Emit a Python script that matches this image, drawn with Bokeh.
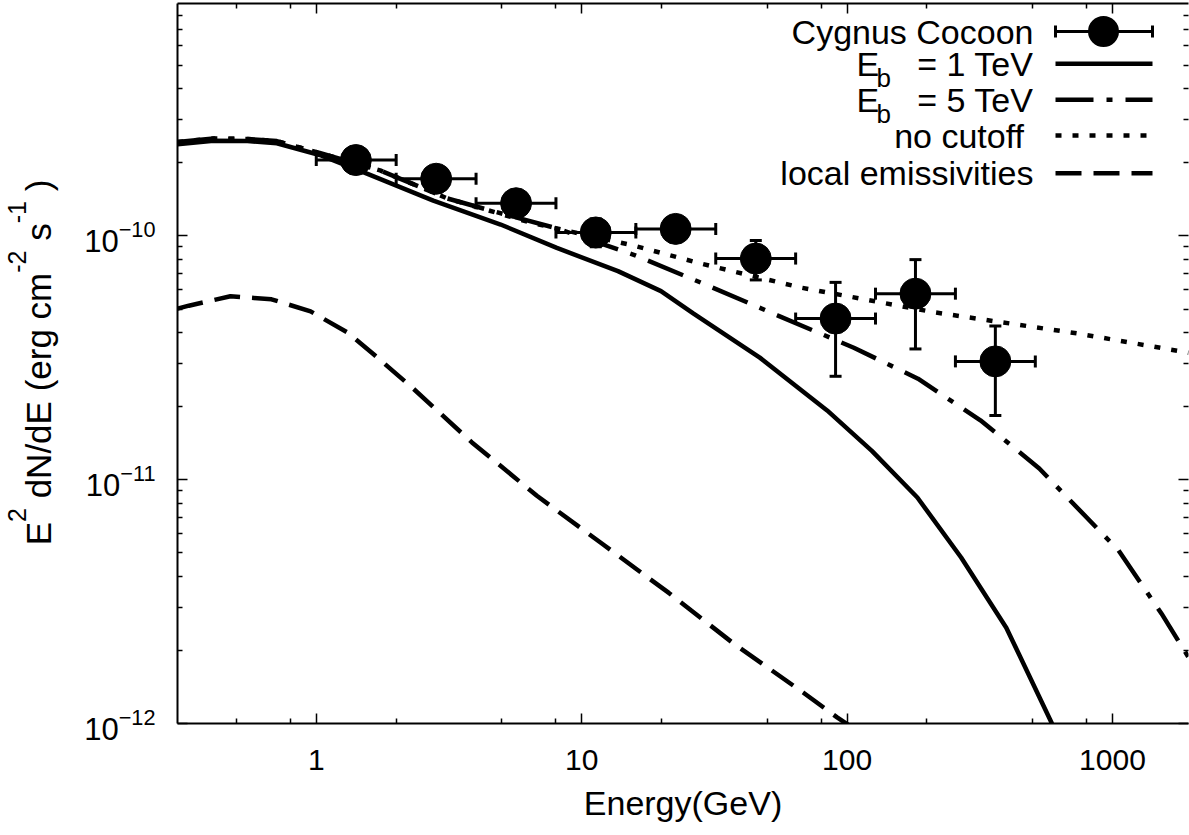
import math
from bokeh.plotting import figure
from bokeh.layouts import row
from bokeh.models import (ColumnDataSource, Whisker, TeeHead, Label, Arrow, BoxAnnotation,
                          LogAxis, FixedTicker, Range1d, NumeralTickFormatter, LogTickFormatter)
from bokeh.embed import file_html
from bokeh.resources import INLINE

FONT = "Liberation Sans"

# ---------------- data ----------------
cocoon_E = [1.41, 2.83, 5.66, 11.3, 22.6, 45.3, 90.5, 181, 362]
cocoon_F = [2.04e-10, 1.71e-10, 1.357e-10, 1.03e-10, 1.065e-10, 8.05e-11, 4.57e-11, 5.78e-11, 3.05e-11]
cocoon_Elo = [1.0, 2.0, 4.0, 8.0, 16.0, 32.0, 64.0, 128.0, 256.0]
cocoon_Ehi = [2.0, 4.0, 8.0, 16.0, 32.0, 64.0, 128.0, 256.0, 512.0]
cocoon_Flo = [1.90e-10, 1.59e-10, 1.26e-10, 0.90e-10, 0.98e-10, 6.58e-11, 2.65e-11, 3.43e-11, 1.83e-11]
cocoon_Fhi = [2.18e-10, 1.83e-10, 1.46e-10, 1.17e-10, 1.16e-10, 9.54e-11, 6.43e-11, 7.97e-11, 4.26e-11]

eb1_E = [0.3, 0.41, 0.55, 0.71, 1.03, 1.56, 2.76, 4.95, 8.06, 13.7, 19.9, 26.4, 46.9, 84.1, 124, 184,
         269, 398, 589, 650]
eb1_F = [2.37e-10, 2.45e-10, 2.44e-10, 2.39e-10, 2.14e-10, 1.79e-10, 1.39e-10, 1.11e-10, 8.9e-11,
         7.15e-11, 5.92e-11, 4.79e-11, 3.16e-11, 1.92e-11, 1.31e-11, 8.44e-12, 4.79e-12, 2.47e-12,
         1.01e-12, 7.5e-13]

eb5_E = [0.3, 0.41, 0.55, 0.71, 1.03, 1.74, 3.12, 4.38, 8.06, 16.0, 29.9, 54.9, 106, 185, 318, 530,
         1054, 1531, 1969]
eb5_F = [2.42e-10, 2.50e-10, 2.49e-10, 2.44e-10, 2.18e-10, 1.85e-10, 1.42e-10, 1.28e-10, 1.07e-10,
         8.28e-11, 6.24e-11, 4.70e-11, 3.47e-11, 2.59e-11, 1.75e-11, 1.11e-11, 5.12e-12, 2.82e-12, 1.81e-12]

nocut_E = [0.3, 0.41, 0.55, 0.71, 1.03, 1.74, 3.12, 6.42, 15.7, 28.1, 67, 215, 738, 1936]
nocut_F = [2.42e-10, 2.50e-10, 2.49e-10, 2.44e-10, 2.18e-10, 1.85e-10, 1.42e-10, 1.13e-10, 9.1e-11,
           7.68e-11, 6.12e-11, 4.84e-11, 3.97e-11, 3.31e-11]

local_E = [0.3, 0.331, 0.475, 0.678, 0.952, 1.309, 1.64, 2.29, 3.86, 6.78, 11.98, 21.3, 37.5, 68.3,
           91.7, 105]
local_F = [5.02e-11, 5.16e-11, 5.64e-11, 5.48e-11, 4.89e-11, 4.01e-11, 3.27e-11, 2.39e-11, 1.42e-11,
           8.58e-12, 5.44e-12, 3.43e-12, 2.12e-12, 1.34e-12, 1.06e-12, 9.6e-13]

x_major = [1, 10, 100, 1000]
x_minor = [0.5, 0.8, 2, 5, 8, 20, 50, 80, 200, 500, 800]
y_major_exp = [-12, -11, -10]
y_major = [10.0 ** e for e in y_major_exp]
y_minor = [m * 10.0 ** e for e in y_major_exp for m in range(2, 10)]

legend_titles = ["Cygnus Cocoon", "1 TeV", "5 TeV", "no cutoff", "local emissivities"]
x_title = "Energy(GeV)"
# y title as (text, is_superscript) pieces
y_title = [("E", 0), ("2", 1), (" dN/dE (erg cm", 0), ("-2", 1), (" s", 0), ("-1", 1), (" )", 0)]

# ---------------- layout constants (page pixels) ----------------
PAGE_W, PAGE_H = 1189, 835
FL, FT, FB, FR = 177, 3, 723, 1188          # frame left/top/bottom/right
LPW = 70                                     # width of the side strip holding the y title
X0, X1 = 0.3, 1934
Y0, Y1 = 1e-12, 8.94e-10

W = {' ': 278, '(': 333, ')': 333, '-': 333, '/': 278, '=': 584,
     'C': 722, 'E': 667, 'G': 778, 'N': 722, 'T': 611, 'V': 667,
     'a': 556, 'b': 556, 'c': 500, 'd': 556, 'e': 556, 'f': 278, 'g': 556, 'i': 222,
     'l': 222, 'm': 833, 'n': 556, 'o': 556, 'r': 333, 's': 500, 't': 278, 'u': 556,
     'v': 500, 'y': 500}


def tw(s, size):
    return sum(W.get(c, 556) for c in s) * size / 1000.0


def fx(px):
    return px - FL


def fy(py):
    return FB - py


# ---------------- main figure ----------------
p = figure(width=PAGE_W - LPW, height=PAGE_H, x_axis_type="log", y_axis_type="log",
           x_range=Range1d(X0, X1), y_range=Range1d(Y0, Y1),
           output_backend="svg", toolbar_location=None,
           min_border_left=FL - LPW, min_border_right=PAGE_W - FR, min_border_top=FT,
           min_border_bottom=PAGE_H - FB)
p.outline_line_color = None
p.grid.visible = False
p.background_fill_color = "white"
p.border_fill_color = "white"


def style_axis(ax):
    ax.axis_line_color = "black"
    ax.axis_line_width = 2
    ax.major_tick_in = 10
    ax.major_tick_out = 0
    ax.minor_tick_in = 5
    ax.minor_tick_out = 0
    ax.major_tick_line_color = "black"
    ax.major_tick_line_width = 1.5
    ax.minor_tick_line_color = "black"
    ax.minor_tick_line_width = 1.5


xa = p.xaxis[0]
xa.ticker = FixedTicker(ticks=x_major, minor_ticks=x_minor)
xa.formatter = NumeralTickFormatter(format="0")
style_axis(xa)
xa.major_label_text_font = FONT
xa.major_label_text_font_size = "30px"
xa.major_label_text_color = "black"
xa.major_label_standoff = 26
xa.axis_label = x_title
xa.axis_label_text_font = FONT
xa.axis_label_text_font_size = "34px"
xa.axis_label_text_font_style = "normal"
xa.axis_label_text_color = "black"
xa.axis_label_standoff = 11

ya = p.yaxis[0]
ya.ticker = FixedTicker(ticks=y_major, minor_ticks=y_minor)
ya.formatter = LogTickFormatter()
style_axis(ya)
ya.major_label_text_font = FONT
ya.major_label_text_font_size = "31px"
ya.major_label_text_color = "black"
ya.major_label_standoff = 22

# label-free mirrored tick axes on top and right
for side, majors, minors in (("above", x_major, x_minor), ("right", y_major, y_minor)):
    for ticks, length in ((majors, 10), (minors, 5)):
        ax = LogAxis(ticker=FixedTicker(ticks=[], minor_ticks=ticks))
        style_axis(ax)
        ax.minor_tick_in = length
        ax.major_label_standoff = 0
        if side == "right" or length == 5:
            ax.axis_line_color = None
        p.add_layout(ax, side)

# ---------------- curves ----------------
LW = 4.5
p.line(eb1_E, eb1_F, line_color="black", line_width=LW)
p.line(eb5_E, eb5_F, line_color="black", line_width=LW, line_dash="38 13 6 13")
p.line(nocut_E, nocut_F, line_color="black", line_width=LW, line_dash="6 11")
p.line(local_E, local_F, line_color="black", line_width=LW, line_dash="26 12")

# ---------------- data points ----------------
src = ColumnDataSource(dict(E=cocoon_E, F=cocoon_F, Elo=cocoon_Elo, Ehi=cocoon_Ehi,
                            Flo=cocoon_Flo, Fhi=cocoon_Fhi))
EW = 3
for kw in (dict(base="E", lower="Flo", upper="Fhi", dimension="height"),
           dict(base="F", lower="Elo", upper="Ehi", dimension="width")):
    p.add_layout(Whisker(source=src, line_color="black", line_width=EW,
                         upper_head=TeeHead(size=12, line_width=EW, line_color="black"),
                         lower_head=TeeHead(size=12, line_width=EW, line_color="black"), **kw))
p.scatter("E", "F", source=src, marker="circle", size=31, fill_color="black", line_color="black")

# ---------------- legend (gnuplot style: text left, sample right) ----------------
rows = [31, 63.3, 99.3, 135, 172.7]
TXT_R = 1033
S0, S1 = 1055, 1152


def text_label(fig, t, x, y, align, size=34, angle=0.0, xu="screen", yu="screen"):
    fig.add_layout(Label(x=x, y=y, x_units=xu, y_units=yu, text=t, angle=angle,
                         text_align=align, text_baseline="middle",
                         text_font=FONT, text_font_size="%gpx" % size, text_color="black"))


text_label(p, legend_titles[0], fx(TXT_R), fy(rows[0]), "right")
p.add_layout(Arrow(x_start=fx(S0), y_start=fy(rows[0]), x_end=fx(S1), y_end=fy(rows[0]),
                   start_units="screen", end_units="screen", line_width=EW, line_color="black",
                   start=TeeHead(size=12, line_width=EW, line_color="black"),
                   end=TeeHead(size=12, line_width=EW, line_color="black")))
p.add_layout(BoxAnnotation(left=fx(1103 - 15.5), right=fx(1103 + 15.5),
                           bottom=fy(rows[0] + 15.5), top=fy(rows[0] - 15.5),
                           left_units="screen", right_units="screen",
                           bottom_units="screen", top_units="screen",
                           fill_color="black", fill_alpha=1, line_color=None, border_radius=16))
for r, lab in ((rows[1], legend_titles[1]), (rows[2], legend_titles[2])):
    text_label(p, "= " + lab, fx(TXT_R), fy(r), "right")
    text_label(p, "E", fx(856), fy(r), "left")
    text_label(p, "b", fx(876), fy(r + 14), "left", size=26)
text_label(p, legend_titles[3], fx(TXT_R - 9.5), fy(rows[3]), "right")
text_label(p, legend_titles[4], fx(TXT_R), fy(rows[4]), "right")

for r, dash in ((rows[1], "solid"), (rows[2], "38 13 6 13"), (rows[3], "6 11"), (rows[4], "26 12")):
    p.add_layout(Arrow(x_start=fx(S0), y_start=fy(r), x_end=fx(S1), y_end=fy(r),
                       start_units="screen", end_units="screen", line_width=LW,
                       line_color="black", line_dash=dash, start=None, end=None))

# ---------------- left strip: rotated y title with superscripts ----------------
# (its frame is aligned with the main frame by the row layout)
lp = figure(width=LPW, height=PAGE_H, x_range=Range1d(0, LPW), y_range=Range1d(Y0, Y1),
            y_axis_type="log", x_axis_location=None, y_axis_location=None,
            min_border_left=0, min_border_right=0, min_border_top=FT,
            min_border_bottom=PAGE_H - FB, output_backend="svg", toolbar_location=None)
lp.outline_line_color = None
lp.grid.visible = False
lp.background_fill_color = "white"
lp.border_fill_color = "white"

MAIN, SUP, RAISE = 35, 25, 25
BASE_X = 50
L = sum(tw(t, SUP if s else MAIN) for t, s in y_title)
pos = 362 + L / 2.0          # page y where the upward-running text starts
for t, s in y_title:
    size = SUP if s else MAIN
    bx = BASE_X - (RAISE if s else 0)
    lead = len(t) - len(t.lstrip(" "))
    start = pos - tw(" " * lead, size)       # leading blanks are not rendered in SVG
    text_label(lp, t.strip(" "), bx - 0.3465 * size, fy(start), "left", size=size,
               angle=math.pi / 2, xu="data", yu="screen")
    pos -= tw(t, size)

layout = row(lp, p)
open("out.html", "w").write(file_html(layout, INLINE))
